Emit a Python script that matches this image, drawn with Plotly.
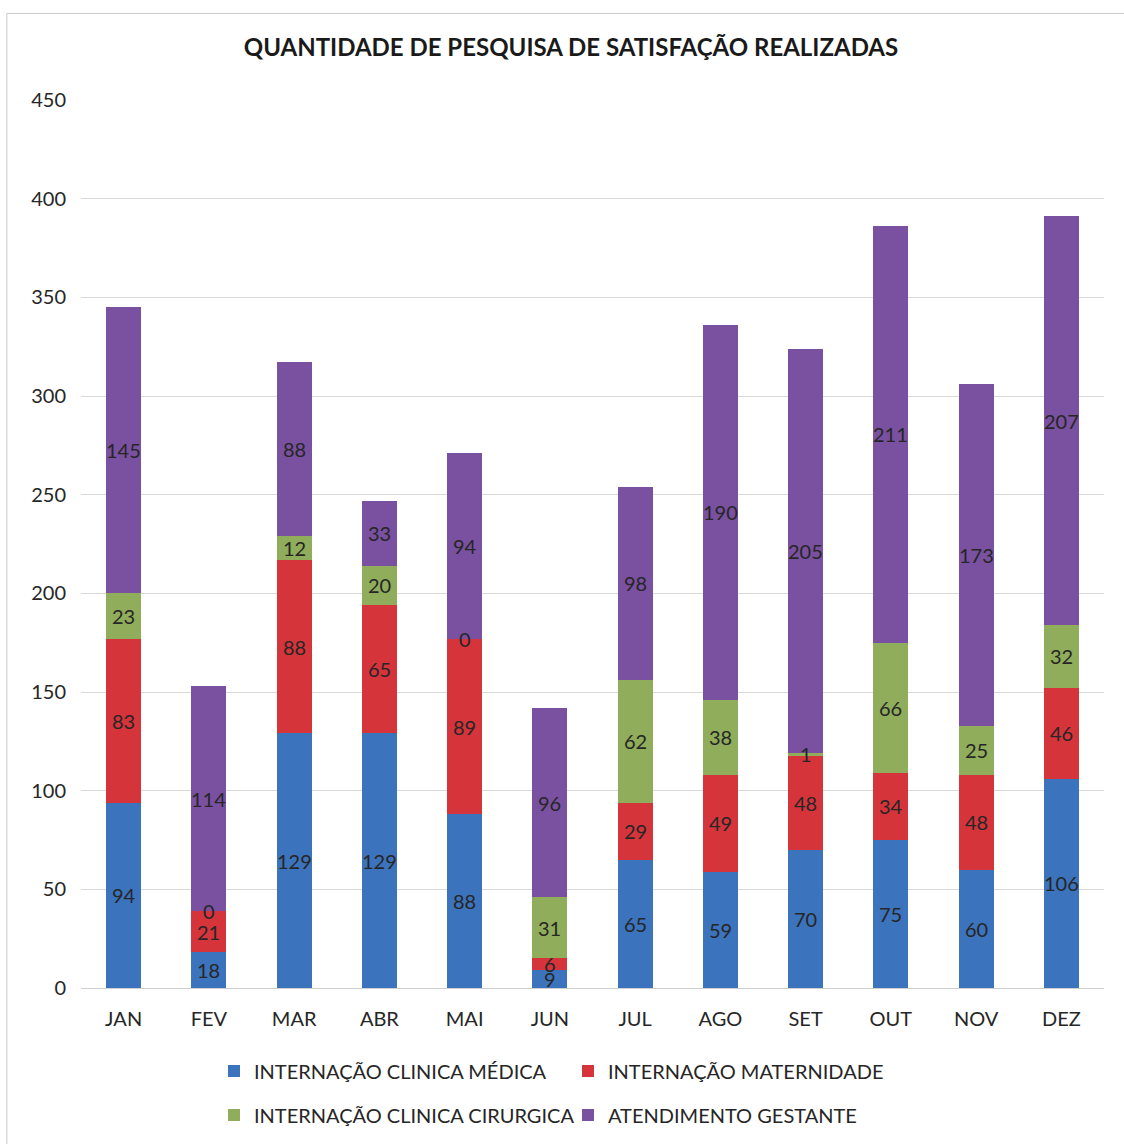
import plotly.graph_objects as go

months = ["JAN", "FEV", "MAR", "ABR", "MAI", "JUN", "JUL", "AGO", "SET", "OUT", "NOV", "DEZ"]

clinica_medica = [94, 18, 129, 129, 88, 9, 65, 59, 70, 75, 60, 106]
maternidade = [83, 21, 88, 65, 89, 6, 29, 49, 48, 34, 48, 46]
clinica_cirurgica = [23, 0, 12, 20, 0, 31, 62, 38, 1, 66, 25, 32]
atendimento_gestante = [145, 114, 88, 33, 94, 96, 98, 190, 205, 211, 173, 207]

# (name, values, colour, legend row)
series = [
    ("INTERNAÇÃO CLINICA MÉDICA", clinica_medica, "#3b73bd", "legend"),
    ("INTERNAÇÃO MATERNIDADE", maternidade, "#d5343b", "legend"),
    ("INTERNAÇÃO CLINICA CIRURGICA", clinica_cirurgica, "#8fad5a", "legend2"),
    ("ATENDIMENTO GESTANTE", atendimento_gestante, "#7a50a0", "legend2"),
]

FONT = "Lato"
TEXT = "#262626"

fig = go.Figure()
annotations = []
base = [0] * len(months)
for name, vals, color, leg in series:
    fig.add_trace(go.Bar(
        x=months, y=vals, name=name, legend=leg,
        marker=dict(color=color, line=dict(width=0)),
    ))
    # value labels centred in each stacked segment
    for m, b, v in zip(months, base, vals):
        annotations.append(dict(
            x=m, y=b + v / 2, xref="x", yref="y", text=str(v),
            showarrow=False, font=dict(family=FONT, size=20, color=TEXT),
        ))
    base = [b + v for b, v in zip(base, vals)]

legend_style = dict(
    orientation="h", x=0.130, xanchor="left", yanchor="middle",
    entrywidth=309, traceorder="normal", itemclick=False,
    bgcolor="rgba(0,0,0,0)",
    font=dict(family=FONT, size=20, color=TEXT),
)

fig.update_layout(
    width=1124, height=1144,
    margin=dict(l=81, r=20, t=100, b=156, autoexpand=False),
    paper_bgcolor="white", plot_bgcolor="white",
    barmode="stack", bargap=0.59,
    title=dict(
        text="QUANTIDADE DE PESQUISA DE SATISFAÇÃO REALIZADAS",
        x=0.508, xanchor="center", y=1 - 48 / 1144, yanchor="middle",
        font=dict(family=FONT, size=24, color="#1a1a1a", weight="bold"),
    ),
    font=dict(family=FONT, size=20, color="#333333"),
    annotations=annotations,
    legend=dict(legend_style, y=-0.0935),
    legend2=dict(legend_style, y=-0.143),
    shapes=[
        dict(type="line", xref="paper", yref="paper",
             x0=-0.0725, x1=-0.0725, y0=-0.2, y1=1.0975,
             line=dict(color="#c8c8c8", width=1)),
        dict(type="line", xref="paper", yref="paper",
             x0=-0.0725, x1=1.03, y0=1.0975, y1=1.0975,
             line=dict(color="#c8c8c8", width=1)),
    ],
)

fig.update_xaxes(
    showgrid=False, showline=True, linecolor="#cfcfcf", linewidth=1,
    ticks="", ticklabelstandoff=13,
    tickfont=dict(family=FONT, size=20, color=TEXT),
)
fig.update_yaxes(
    range=[0, 450], dtick=50, showgrid=True, gridcolor="#d9d9d9", gridwidth=1,
    zeroline=False, showline=False, ticks="", ticklabelstandoff=14,
    tickfont=dict(family=FONT, size=20, color=TEXT),
)

fig.write_html("out.html")
